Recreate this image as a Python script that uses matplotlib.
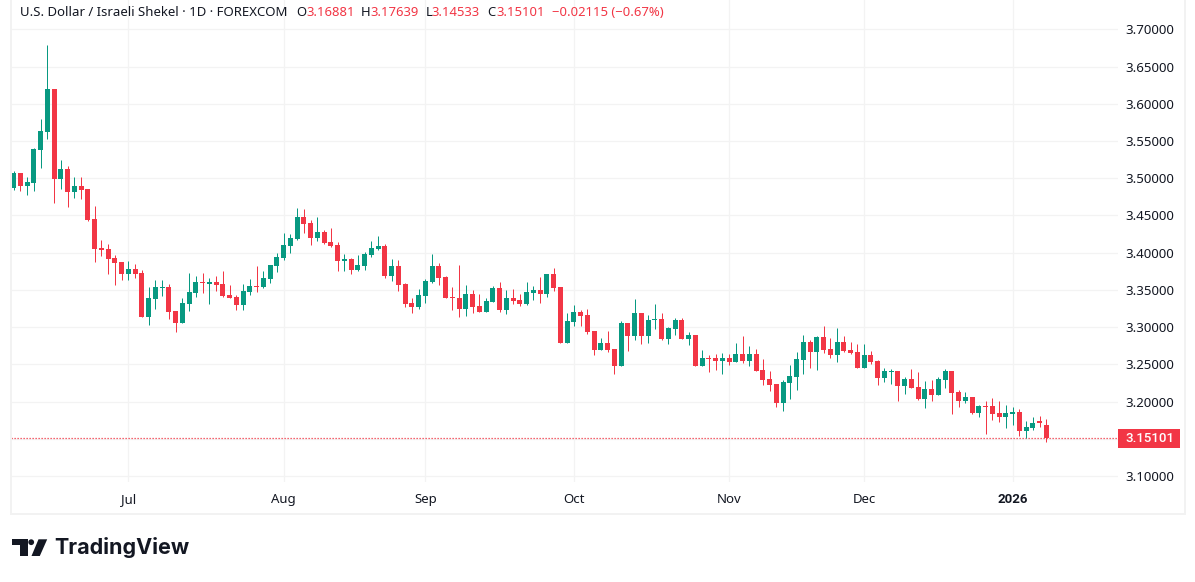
'''
USD/ILS daily candles, TradingView look
'''
import matplotlib
matplotlib.use("Agg")
import matplotlib.pyplot as plt
from matplotlib.patches import Polygon, Circle, Rectangle

# Candle values
opens = [3.487, 3.507, 3.490, 3.494, 3.538, 3.562, 3.620, 3.499, 3.512, 3.482, 3.490,
         3.486, 3.445, 3.406, 3.405, 3.393, 3.387, 3.371, 3.378, 3.373, 3.314, 3.338,
         3.353, 3.354, 3.322, 3.306, 3.331, 3.346, 3.361, 3.358, 3.361, 3.358, 3.343,
         3.340, 3.330, 3.347, 3.355, 3.354, 3.365, 3.382, 3.393, 3.409, 3.418, 3.448,
         3.440, 3.420, 3.428, 3.414, 3.410, 3.389, 3.391, 3.377, 3.382, 3.397, 3.405,
         3.409, 3.369, 3.382, 3.358, 3.332, 3.327, 3.342, 3.361, 3.382, 3.367, 3.340,
         3.339, 3.324, 3.345, 3.328, 3.320, 3.334, 3.353, 3.323, 3.339, 3.336, 3.331,
         3.346, 3.350, 3.345, 3.371, 3.354, 3.279, 3.307, 3.320, 3.316, 3.295, 3.269,
         3.279, 3.271, 3.248, 3.306, 3.288, 3.319, 3.288, 3.310, 3.311, 3.284, 3.298,
         3.310, 3.284, 3.289, 3.248, 3.259, 3.259, 3.255, 3.259, 3.253, 3.264, 3.255,
         3.264, 3.242, 3.230, 3.224, 3.198, 3.225, 3.233, 3.256, 3.280, 3.267, 3.287,
         3.271, 3.263, 3.280, 3.269, 3.267, 3.245, 3.263, 3.255, 3.232, 3.240, 3.241,
         3.221, 3.230, 3.220, 3.204, 3.217, 3.209, 3.229, 3.241, 3.213, 3.201, 3.206,
         3.185, 3.194, 3.194, 3.185, 3.179, 3.183, 3.186, 3.161, 3.165, 3.174, 3.16881]
highs = [3.510, 3.507, 3.502, 3.541, 3.580, 3.679, 3.620, 3.525, 3.516, 3.502, 3.502,
         3.486, 3.463, 3.417, 3.412, 3.397, 3.387, 3.389, 3.385, 3.377, 3.354, 3.363,
         3.363, 3.358, 3.322, 3.339, 3.373, 3.369, 3.373, 3.366, 3.369, 3.375, 3.357,
         3.343, 3.358, 3.365, 3.382, 3.375, 3.383, 3.400, 3.426, 3.425, 3.460, 3.459,
         3.444, 3.448, 3.431, 3.433, 3.414, 3.398, 3.393, 3.397, 3.401, 3.416, 3.422,
         3.412, 3.391, 3.390, 3.359, 3.339, 3.351, 3.365, 3.398, 3.386, 3.369, 3.354,
         3.383, 3.357, 3.350, 3.345, 3.339, 3.355, 3.361, 3.350, 3.351, 3.345, 3.361,
         3.355, 3.367, 3.371, 3.379, 3.354, 3.319, 3.330, 3.323, 3.324, 3.295, 3.285,
         3.295, 3.271, 3.308, 3.306, 3.338, 3.319, 3.316, 3.331, 3.319, 3.300, 3.312,
         3.312, 3.294, 3.289, 3.269, 3.263, 3.264, 3.265, 3.264, 3.279, 3.288, 3.275,
         3.271, 3.257, 3.241, 3.224, 3.229, 3.249, 3.267, 3.289, 3.283, 3.288, 3.302,
         3.285, 3.299, 3.288, 3.280, 3.277, 3.277, 3.268, 3.256, 3.245, 3.244, 3.241,
         3.233, 3.244, 3.240, 3.228, 3.229, 3.233, 3.244, 3.241, 3.216, 3.213, 3.206,
         3.195, 3.201, 3.205, 3.201, 3.195, 3.193, 3.190, 3.174, 3.179, 3.181, 3.17639]
lows = [3.484, 3.483, 3.477, 3.483, 3.514, 3.553, 3.467, 3.486, 3.461, 3.473, 3.472,
        3.443, 3.387, 3.396, 3.371, 3.357, 3.363, 3.363, 3.366, 3.314, 3.303, 3.324,
        3.342, 3.311, 3.294, 3.306, 3.322, 3.340, 3.346, 3.331, 3.349, 3.340, 3.339,
        3.323, 3.323, 3.343, 3.347, 3.353, 3.359, 3.374, 3.390, 3.400, 3.417, 3.426,
        3.410, 3.416, 3.412, 3.408, 3.375, 3.375, 3.371, 3.375, 3.377, 3.394, 3.404,
        3.366, 3.362, 3.349, 3.327, 3.319, 3.324, 3.332, 3.359, 3.357, 3.339, 3.323,
        3.314, 3.315, 3.319, 3.320, 3.320, 3.334, 3.320, 3.318, 3.331, 3.328, 3.330,
        3.336, 3.332, 3.340, 3.349, 3.279, 3.279, 3.302, 3.302, 3.291, 3.263, 3.269,
        3.267, 3.237, 3.248, 3.268, 3.283, 3.277, 3.279, 3.298, 3.283, 3.277, 3.289,
        3.284, 3.276, 3.248, 3.248, 3.240, 3.242, 3.237, 3.249, 3.253, 3.252, 3.248,
        3.241, 3.222, 3.214, 3.193, 3.187, 3.204, 3.216, 3.237, 3.245, 3.242, 3.265,
        3.259, 3.253, 3.267, 3.264, 3.245, 3.245, 3.250, 3.222, 3.226, 3.224, 3.201,
        3.210, 3.218, 3.202, 3.191, 3.201, 3.209, 3.218, 3.183, 3.193, 3.198, 3.183,
        3.179, 3.157, 3.175, 3.173, 3.165, 3.169, 3.154, 3.151, 3.162, 3.166, 3.14533]
closes = [3.507, 3.490, 3.495, 3.539, 3.563, 3.620, 3.499, 3.512, 3.482, 3.490, 3.484,
          3.444, 3.405, 3.404, 3.391, 3.386, 3.371, 3.378, 3.371, 3.314, 3.339, 3.354,
          3.354, 3.320, 3.306, 3.332, 3.347, 3.361, 3.359, 3.361, 3.357, 3.342, 3.339,
          3.330, 3.349, 3.355, 3.354, 3.366, 3.383, 3.394, 3.410, 3.420, 3.448, 3.439,
          3.420, 3.428, 3.413, 3.409, 3.389, 3.391, 3.377, 3.383, 3.398, 3.406, 3.409,
          3.369, 3.382, 3.357, 3.331, 3.327, 3.343, 3.362, 3.382, 3.366, 3.339, 3.339,
          3.324, 3.345, 3.327, 3.320, 3.335, 3.353, 3.323, 3.339, 3.335, 3.331, 3.347,
          3.350, 3.345, 3.371, 3.353, 3.279, 3.308, 3.320, 3.315, 3.294, 3.269, 3.279,
          3.269, 3.248, 3.306, 3.288, 3.319, 3.288, 3.310, 3.311, 3.284, 3.299, 3.310,
          3.284, 3.289, 3.248, 3.259, 3.257, 3.255, 3.259, 3.253, 3.264, 3.255, 3.264,
          3.241, 3.229, 3.222, 3.198, 3.226, 3.234, 3.257, 3.280, 3.267, 3.287, 3.269,
          3.263, 3.280, 3.268, 3.265, 3.245, 3.263, 3.253, 3.232, 3.241, 3.241, 3.221,
          3.230, 3.218, 3.204, 3.217, 3.209, 3.230, 3.241, 3.212, 3.201, 3.206, 3.185,
          3.194, 3.193, 3.183, 3.179, 3.185, 3.186, 3.161, 3.166, 3.171, 3.171, 3.15101]

# Where the month labels sit (candle number) and the price ticks
month_pos = [17, 40, 61, 83, 106, 126, 148]
month_labels = ["Jul", "Aug", "Sep", "Oct", "Nov", "Dec", "2026"]
price_ticks = [3.10, 3.15, 3.20, 3.25, 3.30, 3.35, 3.40, 3.45, 3.50, 3.55, 3.60, 3.65, 3.70]

GREEN = "#089981"
RED = "#F23645"
TEXT = "#131722"
GRID = "#F3F3F3"
BORDER = "#F2F2F2"
FONT = "Noto Sans"
W, H = 1195, 582

plt.rcParams["font.family"] = FONT

fig = plt.figure(figsize=(W / 100, H / 100), dpi=100, facecolor="white")


def fx(px):
    return px / W


def fy(py):
    return 1 - py / H


# Plot pane: x 11..1118, y 0..482 in image pixels
ax = fig.add_axes([fx(11), fy(482), fx(1118 - 11), 482 / H])
ax.set_xlim(-0.4, 163.6)
ax.set_ylim(3.0919, 3.7394)
for s in ax.spines.values():
    s.set_visible(False)
ax.set_axisbelow(True)
ax.grid(True, color=GRID, lw=0.9)

for i in range(len(opens)):
    up = closes[i] >= opens[i]
    col = GREEN if up else RED
    ax.vlines(i, lows[i], highs[i], color=col, lw=0.72, zorder=3)
    body = abs(closes[i] - opens[i])
    ax.bar(i, max(body, 0.0014), width=0.74, bottom=min(opens[i], closes[i]),
           color=col, linewidth=0, zorder=4)

# Last price line and tag
last = closes[-1]
ax.axhline(last, color=RED, lw=0.9, ls=(0, (1.0, 1.4)), zorder=2)

ax.yaxis.tick_right()
ax.set_yticks(price_ticks)
ax.set_yticklabels(["%.5f" % p for p in price_ticks])
ax.set_xticks(month_pos)
ax.set_xticklabels(month_labels)
ax.tick_params(axis="y", length=0, pad=5.5, labelsize=9.5, labelcolor=TEXT)
ax.tick_params(axis="x", length=0, pad=8, labelsize=9.5, labelcolor=TEXT)
# Noto Sans here has no bold cut, so the year label takes Roboto
ax.get_xticklabels()[-1].set_family("Roboto")
ax.get_xticklabels()[-1].set_fontweight("bold")

fig.add_artist(Rectangle((fx(1118), fy(448)), 62 / W, 19 / H, transform=fig.transFigure,
                         facecolor=RED, edgecolor="none"))
fig.text(fx(1149.5), fy(438.5), "%.5f" % last, color="white", fontsize=9.5, fontweight="medium",
         family="Roboto", ha="center", va="center")

# Frame round chart and axes (no top edge)
for (x0, y0, w, h) in [(10, 0, 2, 515), (1184, 0, 2, 515), (10, 513, 1176, 2)]:
    fig.add_artist(Rectangle((fx(x0), fy(y0 + h)), w / W, h / H, transform=fig.transFigure,
                             facecolor=BORDER, edgecolor="none"))

# Header line
fig.text(fx(20), fy(13), "U.S. Dollar / Israeli Shekel · 1D · FOREXCOM", color=TEXT,
         fontsize=9.5, va="center")
header = [(296.5, "O", TEXT), (306, "3.16881", RED), (361, "H", TEXT), (370, "3.17639", RED),
          (425.5, "L", TEXT), (431.5, "3.14533", RED), (487, "C", TEXT), (496.5, "3.15101", RED),
          (551.5, "\u22120.02115 (\u22120.67%)", RED)]
for x, txt, col in header:
    fig.text(fx(x), fy(13), txt, color=col, fontsize=9.4, va="center")

# TradingView logo
logo = "#131722"
fig.add_artist(Polygon([(fx(a), fy(b)) for a, b in
                        [(12.3, 539.3), (27.5, 539.3), (27.5, 556), (19.7, 556), (19.7, 544.8), (12.3, 544.8)]],
                       closed=True, transform=fig.transFigure, facecolor=logo, edgecolor="none"))
fig.add_artist(Polygon([(fx(a), fy(b)) for a, b in
                        [(38.5, 539.3), (47.2, 539.3), (39.8, 556), (31.5, 556)]],
                       closed=True, transform=fig.transFigure, facecolor=logo, edgecolor="none"))
dot = Circle((31.2, H - 542.2), 2.9, transform=None, facecolor=logo, edgecolor="none")
fig.add_artist(dot)
fig.text(fx(54), fy(548), "TradingView", color=logo, fontsize=15.5, fontweight="bold",
         family="Inter", va="center")

fig.savefig("out.png", dpi=100)
